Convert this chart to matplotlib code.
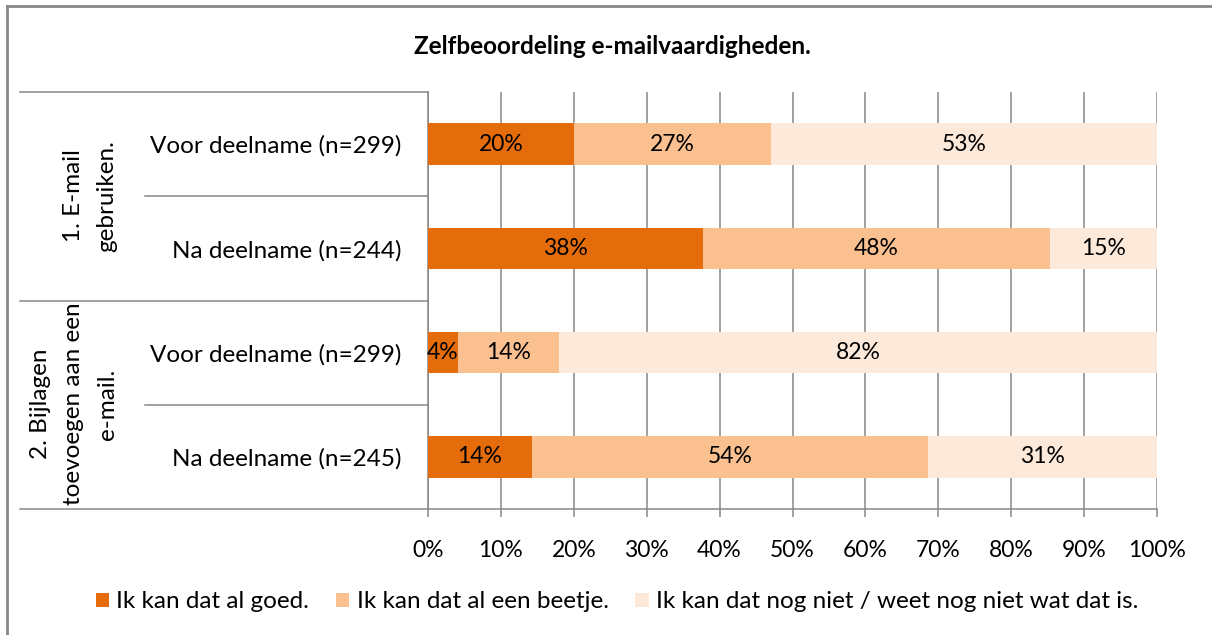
import matplotlib.pyplot as plt
import numpy as np
from matplotlib.lines import Line2D

# data (percentages)
categories = ["Voor deelname (n=299)", "Na deelname (n=244)",
              "Voor deelname (n=299)", "Na deelname (n=245)"]
groups = ["1. E-mail\ngebruiken.", "2. Bijlagen\ntoevoegen aan een\ne-mail."]
goed = [20.0, 37.7, 4.1, 14.2]
beetje = [27.0, 47.6, 13.9, 54.4]
nog_niet = [53.0, 14.7, 82.0, 31.4]
series_names = ["Ik kan dat al goed.", "Ik kan dat al een beetje.",
                "Ik kan dat nog niet / weet nog niet wat dat is."]
colors = ["#E46C0A", "#FAC090", "#FDE9D9"]
xticks = np.arange(0, 101, 10)

plt.rcParams['font.family'] = ['Lato', 'DejaVu Sans']
W, H = 1212, 635
fig = plt.figure(figsize=(W / 100, H / 100), dpi=100)
ax = fig.add_axes([428 / W, 1 - 509 / H, 729 / W, 417 / H])

grey = "#878787"
y = np.arange(len(categories))
left = np.zeros(len(categories))
for vals, name, col in zip([goed, beetje, nog_niet], series_names, colors):
    bars = ax.barh(y, vals, left=left, height=0.4, color=col, label=name, zorder=3)
    for b, v in zip(bars, vals):
        ax.text(b.get_x() + b.get_width() / 2, b.get_y() + b.get_height() / 2,
                f"{round(v):.0f}%", ha="center", va="center", fontsize=16.5,
                color="black", zorder=4)
    left += np.array(vals)

ax.set_xlim(0, 100)
ax.set_ylim(len(categories) - 0.5, -0.5)
ax.set_xticks(xticks)
ax.set_xticklabels([f"{t}%" for t in xticks], fontsize=16.5)
ax.set_yticks(y)
ax.set_yticklabels(categories, fontsize=17.5)
ax.tick_params(axis="y", length=0, pad=19)
ax.tick_params(axis="x", length=6, width=1.1, color=grey, pad=16)
ax.grid(axis="x", color=grey, linewidth=1.1, zorder=0)
for s in ["top", "right"]:
    ax.spines[s].set_visible(False)
for s in ["left", "bottom"]:
    ax.spines[s].set_color(grey)
    ax.spines[s].set_linewidth(1.1)

# multi-level category table lines on the left
outer_x = (20 - 428) / 729
inner_x = (145 - 428) / 729
for yy, x0 in [(1.0, outer_x), (0.75, inner_x), (0.5, outer_x), (0.25, inner_x), (0.0, outer_x)]:
    ax.plot([x0, 0], [yy, yy], transform=ax.transAxes, color=grey,
            linewidth=1.1, clip_on=False)

# group labels
fig.text(90 / W, 1 - 196 / H, groups[0], rotation=90, ha="center", va="center",
         multialignment="center", fontsize=17.5, linespacing=1.75)
fig.text(74 / W, 1 - 404 / H, groups[1], rotation=90, ha="center", va="center",
         multialignment="center", fontsize=17.5, linespacing=1.75)

fig.text(612 / W, 1 - 46 / H, "Zelfbeoordeling e-mailvaardigheden.",
         ha="center", va="center", fontsize=17.5, fontweight="bold")

fig.legend(loc="center", bbox_to_anchor=(617 / W, 1 - 602 / H), ncol=3,
           frameon=False, fontsize=17.5, handlelength=0.55, handleheight=0.55,
           handletextpad=0.3, columnspacing=1.1)

# outer chart border (top and left visible)
fig.add_artist(Line2D([7 / W, 7 / W], [0, 1 - 6 / H], color=grey, linewidth=2))
fig.add_artist(Line2D([7 / W, 1], [1 - 6 / H, 1 - 6 / H], color=grey, linewidth=2))

fig.savefig("out.png", dpi=100)
